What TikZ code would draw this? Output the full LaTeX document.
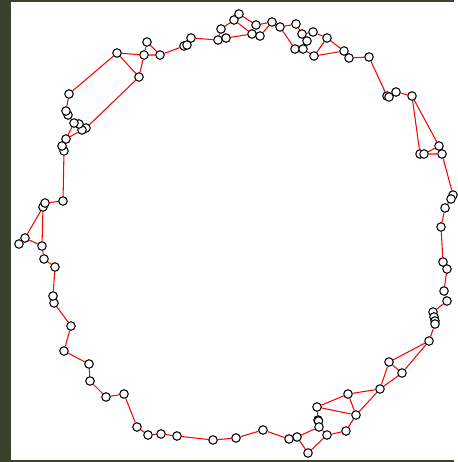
\documentclass[tikz,border=0pt]{standalone}
\usepackage{tikz}

\pgfdeclarelayer{back}
\pgfdeclarelayer{edges}
\pgfsetlayers{back,edges,main}

\definecolor{ramec}{RGB}{58,66,46}

\tikzset{
  vtx/.style={circle, draw=black, fill=white, line width=0.6pt, inner sep=0pt, minimum size=0.17cm},
  hrana/.style={red, line width=0.6pt}
}

\begin{document}
\begin{tikzpicture}[x=0.02cm, y=-0.02cm]

    % Pozadi
    \begin{pgfonlayer}{back}
    \useasboundingbox (0,0) rectangle (454,462);
    \fill[ramec] (0,0) rectangle (454,462);
    \fill[white] (11,2) rectangle (454,460);
    \end{pgfonlayer}

    % Uzly - horni levy oblouk
    \node[vtx] (n1) at (69,94) {};
    \node[vtx] (n2) at (117,53) {};
    \node[vtx] (n3) at (147,42) {};
    \node[vtx] (n4) at (144,55) {};
    \node[vtx] (n5) at (160,55) {};
    \node[vtx] (n6) at (139,77) {};
    \node[vtx] (n7) at (184,46) {};
    \node[vtx] (n8) at (187,45) {};
    \node[vtx] (n9) at (191,38) {};

    % Uzly - horni okraj
    \node[vtx] (n10) at (218,40) {};
    \node[vtx] (n11) at (221,29) {};
    \node[vtx] (n12) at (226,38) {};
    \node[vtx] (n13) at (234,20) {};
    \node[vtx] (n14) at (239,14) {};
    \node[vtx] (n15) at (256,25) {};
    \node[vtx] (n16) at (252,34) {};
    \node[vtx] (n17) at (260,36) {};
    \node[vtx] (n18) at (272,22) {};
    \node[vtx] (n19) at (280,27) {};
    \node[vtx] (n20) at (296,24) {};
    \node[vtx] (n21) at (302,34) {};
    \node[vtx] (n22) at (307,41) {};
    \node[vtx] (n23) at (313,32) {};
    \node[vtx] (n24) at (295,49) {};
    \node[vtx] (n25) at (303,49) {};
    \node[vtx] (n26) at (314,56) {};
    \node[vtx] (n27) at (327,38) {};
    \node[vtx] (n28) at (344,51) {};
    \node[vtx] (n29) at (349,58) {};
    \node[vtx] (n30) at (369,57) {};

    % Uzly - pravy okraj
    \node[vtx] (n31) at (387,96) {};
    \node[vtx] (n32) at (389,97) {};
    \node[vtx] (n33) at (396,92) {};
    \node[vtx] (n34) at (412,96) {};
    \node[vtx] (n35) at (420,154) {};
    \node[vtx] (n36) at (424,154) {};
    \node[vtx] (n37) at (439,146) {};
    \node[vtx] (n38) at (442,154) {};
    \node[vtx] (n39) at (453,195) {};
    \node[vtx] (n40) at (451,199) {};
    \node[vtx] (n41) at (445,208) {};
    \node[vtx] (n42) at (441,227) {};
    \node[vtx] (n43) at (443,262) {};
    \node[vtx] (n44) at (447,269) {};
    \node[vtx] (n45) at (444,291) {};
    \node[vtx] (n46) at (447,301) {};
    \node[vtx] (n47) at (433,312) {};
    \node[vtx] (n48) at (434,317) {};
    \node[vtx] (n49) at (435,321) {};
    \node[vtx] (n50) at (435,324) {};
    \node[vtx] (n51) at (429,341) {};

    % Uzly - dolni pravy shluk
    \node[vtx] (n52) at (389,362) {};
    \node[vtx] (n53) at (402,373) {};
    \node[vtx] (n54) at (380,389) {};
    \node[vtx] (n55) at (348,394) {};
    \node[vtx] (n56) at (356,415) {};
    \node[vtx] (n57) at (317,407) {};
    \node[vtx] (n58) at (318,420) {};
    \node[vtx] (n58b) at (318.5,421) {};
    \node[vtx] (n59) at (319,427) {};
    \node[vtx] (n60) at (346,431) {};
    \node[vtx] (n61) at (327,435) {};
    \node[vtx] (n62) at (308,453) {};
    \node[vtx] (n63) at (297,437) {};
    \node[vtx] (n64) at (289,439) {};

    % Uzly - dolni okraj
    \node[vtx] (n65) at (263,430) {};
    \node[vtx] (n66) at (236,438) {};
    \node[vtx] (n67) at (213,440) {};
    \node[vtx] (n68) at (177,436) {};
    \node[vtx] (n69) at (161,434) {};
    \node[vtx] (n70) at (148,435) {};
    \node[vtx] (n71) at (137,427) {};
    \node[vtx] (n72) at (124,394) {};
    \node[vtx] (n73) at (106,397) {};
    \node[vtx] (n74) at (90,381) {};
    \node[vtx] (n75) at (89,364) {};
    \node[vtx] (n76) at (64,351) {};
    \node[vtx] (n77) at (71,326) {};

    % Uzly - levy okraj
    \node[vtx] (n78) at (54,303) {};
    \node[vtx] (n79) at (53,296) {};
    \node[vtx] (n80) at (55,267) {};
    \node[vtx] (n81) at (44,259) {};
    \node[vtx] (n82) at (42,246) {};
    \node[vtx] (n83) at (25,238) {};
    \node[vtx] (n84) at (19,244) {};
    \node[vtx] (n85) at (43,207) {};
    \node[vtx] (n86) at (45,203) {};
    \node[vtx] (n87) at (63,201) {};
    \node[vtx] (n88) at (64,151) {};
    \node[vtx] (n89) at (62,146) {};
    \node[vtx] (n90) at (66,139) {};
    \node[vtx] (n91) at (86,128) {};
    \node[vtx] (n92) at (82,130) {};
    \node[vtx] (n93) at (79,124) {};
    \node[vtx] (n94) at (74,123) {};
    \node[vtx] (n95) at (68,115) {};
    \node[vtx] (n96) at (66,111) {};

    % Hrany
    \begin{pgfonlayer}{edges}
    \draw[hrana] (n1) -- (n2)  (n1) -- (n96)  (n2) -- (n4)  (n2) -- (n6)
                 (n3) -- (n4)  (n3) -- (n5)  (n4) -- (n5)  (n4) -- (n6)
                 (n5) -- (n7)  (n6) -- (n91)  (n9) -- (n10)  (n10) -- (n11)
                 (n11) -- (n13)  (n13) -- (n14)  (n14) -- (n15)  (n13) -- (n16)
                 (n12) -- (n16)  (n15) -- (n18)  (n17) -- (n18)  (n18) -- (n19)
                 (n19) -- (n20)  (n19) -- (n24)  (n20) -- (n21)  (n21) -- (n23)
                 (n23) -- (n27)  (n27) -- (n26)  (n27) -- (n28)  (n26) -- (n28)
                 (n25) -- (n26)  (n28) -- (n29)  (n29) -- (n30)  (n30) -- (n31)
                 (n33) -- (n34)  (n34) -- (n35)  (n34) -- (n37)  (n36) -- (n37)
                 (n36) -- (n38)  (n38) -- (n39)  (n40) -- (n41)  (n41) -- (n42)
                 (n42) -- (n43)  (n43) -- (n44)  (n44) -- (n45)  (n45) -- (n46)
                 (n46) -- (n47)  (n50) -- (n51)  (n51) -- (n52)  (n51) -- (n53)
                 (n52) -- (n53)  (n52) -- (n54)  (n53) -- (n54)  (n54) -- (n55)
                 (n54) -- (n56)  (n55) -- (n56)  (n55) -- (n57)  (n57) -- (n56)
                 (n57) -- (n58)  (n56) -- (n60)  (n60) -- (n61)  (n61) -- (n62)
                 (n59) -- (n61)  (n59) -- (n63)  (n62) -- (n63)  (n63) -- (n64)
                 (n64) -- (n65)  (n65) -- (n66)  (n66) -- (n67)  (n67) -- (n68)
                 (n68) -- (n69)  (n69) -- (n70)  (n70) -- (n71)  (n71) -- (n72)
                 (n72) -- (n73)  (n73) -- (n74)  (n74) -- (n75)  (n75) -- (n76)
                 (n76) -- (n77)  (n77) -- (n78)  (n79) -- (n80)  (n80) -- (n81)
                 (n81) -- (n82)  (n82) -- (n83)  (n82) -- (n85)  (n83) -- (n85)
                 (n86) -- (n87)  (n87) -- (n88)  (n90) -- (n94)  (n90) -- (n92)
                 (n95) -- (n94);
    \end{pgfonlayer}

\end{tikzpicture}
\end{document}
